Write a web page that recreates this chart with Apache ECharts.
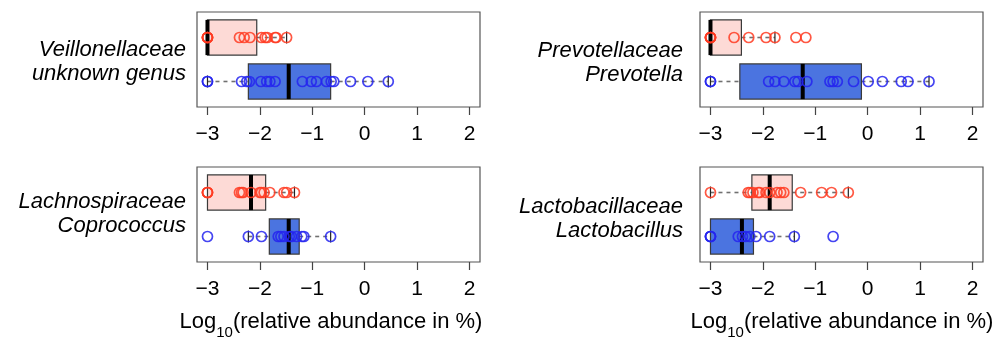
<!DOCTYPE html>
<html><head><meta charset="utf-8">
<script src="https://cdn.jsdelivr.net/npm/echarts@6/dist/echarts.min.js"></script>
<style>html,body{margin:0;padding:0;background:#fff}#c{width:995px;height:339px}</style>
</head><body><div id="c"></div>
<script>
// ---------- data ----------
const xTicks = [-3, -2, -1, 0, 1, 2];
const xAxisTitle = 'Log{sub|10}(relative abundance in %)';

// box stats: [lower whisker, Q1, median, Q3, upper whisker]
const p1Labels = ['Veillonellaceae', 'unknown genus'];
const p1RedBox = [-3, -3, -3, -2.06, -1.49];
const p1BlueBox = [-3, -2.22, -1.45, -0.65, 0.45];
const p1RedPts = [-3, -3, -3, -3, -2.39, -2.30, -2.19, -1.97, -1.90, -1.86, -1.71, -1.69, -1.49];
const p1BluePts = [-3, -3, -2.35, -2.25, -2.20, -1.98, -1.87, -1.81, -1.71, -1.19, -1.02, -0.92, -0.73, -0.64, -0.59, -0.27, 0.06, 0.45];

const p2Labels = ['Prevotellaceae', 'Prevotella'];
const p2RedBox = [-3, -3, -3, -2.41, -1.77];
const p2BlueBox = [-3, -2.44, -1.24, -0.12, 1.17];
const p2RedPts = [-3, -3, -3, -3, -2.55, -2.27, -1.94, -1.77, -1.37, -1.18];
const p2BluePts = [-3, -3, -1.89, -1.77, -1.60, -1.39, -1.33, -1.16, -0.72, -0.66, -0.58, -0.27, 0.01, 0.28, 0.64, 0.77, 1.17];

const p3Labels = ['Lachnospiraceae', 'Coprococcus'];
const p3RedBox = [-3, -3, -2.17, -1.89, -1.34];
const p3BlueBox = [-2.22, -1.82, -1.45, -1.25, -0.65];
const p3RedPts = [-3, -3, -3, -2.39, -2.35, -2.32, -2.17, -2.00, -1.97, -1.92, -1.81, -1.54, -1.49, -1.34];
const p3BluePts = [-3, -2.22, -1.97, -1.65, -1.60, -1.54, -1.44, -1.40, -1.30, -1.20, -1.16, -0.65];

const p4Labels = ['Lactobacillaceae', 'Lactobacillus'];
const p4RedBox = [-3, -2.21, -1.87, -1.44, -0.37];
const p4BlueBox = [-3, -3, -2.40, -2.18, -1.40];
const p4RedPts = [-3, -2.28, -2.24, -2.19, -2.09, -2.06, -1.94, -1.87, -1.73, -1.66, -1.60, -1.28, -0.88, -0.69, -0.37];
const p4BluePts = [-3, -3, -3, -2.47, -2.39, -2.33, -2.25, -2.13, -1.87, -1.40, -0.66];

// ---------- layout / style ----------
const RED_PT = '#ff3b22', BLUE_PT = '#2424ee';
const RED_FILL = '#fddad6', BLUE_FILL = '#4b74e0';
const FONT = '"Liberation Sans", Arial, Helvetica, sans-serif';

const panels = [
  {labels: p1Labels, red: p1RedBox, blue: p1BlueBox, rp: p1RedPts, bp: p1BluePts, left: 197, top: 12, lx: 186, ly: [50, 74], title: false},
  {labels: p2Labels, red: p2RedBox, blue: p2BlueBox, rp: p2RedPts, bp: p2BluePts, left: 700, top: 12, lx: 683, ly: [51, 75], title: false},
  {labels: p3Labels, red: p3RedBox, blue: p3BlueBox, rp: p3RedPts, bp: p3BluePts, left: 197, top: 167, lx: 186, ly: [202, 226], title: true, tx: 331},
  {labels: p4Labels, red: p4RedBox, blue: p4BlueBox, rp: p4RedPts, bp: p4BluePts, left: 700, top: 167, lx: 683, ly: [207, 231], title: true, tx: 842}
];

function renderBox(params, api) {
  const y = api.value(0), lo = api.value(1), q1 = api.value(2), med = api.value(3), q3 = api.value(4), hi = api.value(5);
  const half = api.size([0, 0.8])[1] / 2;
  const st = 6;
  const P = v => api.coord([v, y]);
  const a = P(lo), b = P(q1), m = P(med), c = P(q3), d = P(hi);
  const cy = a[1];
  const ch = [];
  const dash = {stroke: '#707070', lineWidth: 1.6, lineDash: [4, 4]};
  if (lo < q1) {
    ch.push({type: 'line', shape: {x1: a[0], y1: cy, x2: b[0], y2: cy}, style: dash});
    ch.push({type: 'line', shape: {x1: a[0], y1: cy - st, x2: a[0], y2: cy + st}, style: {stroke: '#222', lineWidth: 1.2}});
  }
  if (hi > q3) {
    ch.push({type: 'line', shape: {x1: c[0], y1: cy, x2: d[0], y2: cy}, style: dash});
    ch.push({type: 'line', shape: {x1: d[0], y1: cy - st, x2: d[0], y2: cy + st}, style: {stroke: '#222', lineWidth: 1.2}});
  }
  ch.push({type: 'rect', shape: {x: b[0], y: cy - half, width: c[0] - b[0], height: 2 * half},
    style: {fill: api.value(6) === 1 ? RED_FILL : BLUE_FILL, stroke: '#3a3a3a', lineWidth: 1.2}});
  ch.push({type: 'line', shape: {x1: m[0], y1: cy - half, x2: m[0], y2: cy + half}, style: {stroke: '#000', lineWidth: 4}});
  return {type: 'group', children: ch};
}

const grid = [], xAxis = [], yAxis = [], series = [], graphic = [];
panels.forEach((p, i) => {
  grid.push({left: p.left, top: p.top, width: 283, height: 95, show: true, borderColor: '#555', borderWidth: 1.2, backgroundColor: 'transparent'});
  xAxis.push({type: 'value', gridIndex: i, min: -3.2, max: 2.2,
    axisLine: {show: false}, splitLine: {show: false},
    axisTick: {show: true, customValues: xTicks, length: 8, lineStyle: {color: '#444', width: 1.2}},
    axisLabel: {customValues: xTicks, fontSize: 21, color: '#000', margin: 17, fontFamily: FONT,
      formatter: v => (v < 0 ? '\u2212' + Math.abs(v) : String(v))}});
  yAxis.push({type: 'value', gridIndex: i, min: 0.42, max: 2.58, show: false});
  series.push({type: 'custom', xAxisIndex: i, yAxisIndex: i, renderItem: renderBox, z: 2,
    encode: {x: [1, 2, 3, 4, 5], y: 0},
    data: [[2, ...p.red, 1], [1, ...p.blue, 0]]});
  series.push({type: 'scatter', xAxisIndex: i, yAxisIndex: i, z: 5, symbol: 'circle', symbolSize: 10,
    itemStyle: {color: 'rgba(0,0,0,0)', borderColor: RED_PT, borderWidth: 1.7, opacity: 0.85},
    data: p.rp.map(v => [v, 2])});
  series.push({type: 'scatter', xAxisIndex: i, yAxisIndex: i, z: 5, symbol: 'circle', symbolSize: 10,
    itemStyle: {color: 'rgba(0,0,0,0)', borderColor: BLUE_PT, borderWidth: 1.7, opacity: 0.85},
    data: p.bp.map(v => [v, 1])});
  p.labels.forEach((t, k) => graphic.push({type: 'text', x: p.lx, y: p.ly[k],
    style: {text: t, font: 'italic 22px ' + FONT, fill: '#000', textAlign: 'right', textVerticalAlign: 'middle'}}));
  if (p.title) {
    graphic.push({type: 'text', x: p.tx, y: 322,
      style: {text: xAxisTitle, font: '22px ' + FONT, fill: '#000', textAlign: 'center', textVerticalAlign: 'middle',
        lineHeight: 36,
        rich: {sub: {fontSize: 15, fontFamily: FONT, lineHeight: 15, verticalAlign: 'bottom'}}}});
  }
});

const chart = echarts.init(document.getElementById('c'));
chart.setOption({animation: false, backgroundColor: '#fff', grid, xAxis, yAxis, series, graphic});
</script></body></html>
